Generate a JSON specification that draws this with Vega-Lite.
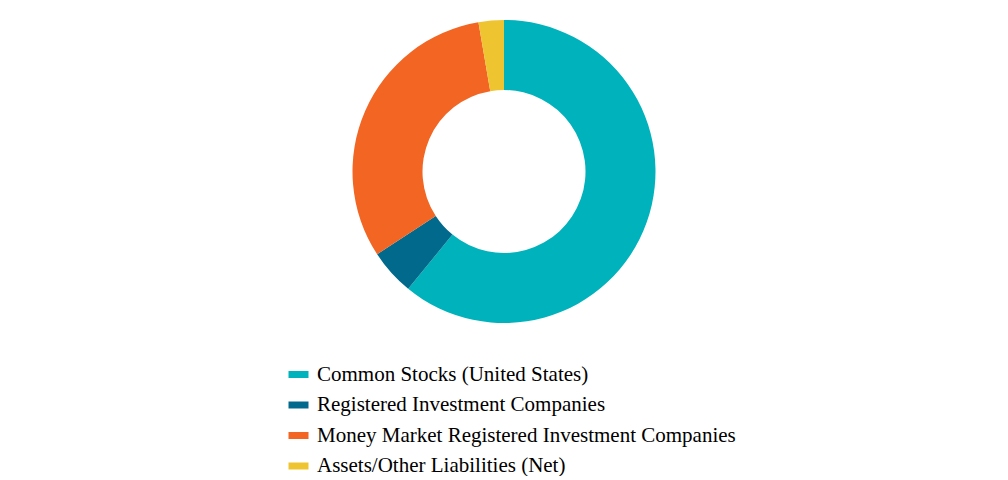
{
  "$schema": "https://vega.github.io/schema/vega-lite/v6.json",
  "width": 1008,
  "height": 343,
  "padding": 0,
  "autosize": {"type": "pad"},
  "background": "white",
  "data": {
    "values": [
      {"category": "Common Stocks (United States)", "value": 60.9, "order": 1},
      {"category": "Registered Investment Companies", "value": 4.9, "order": 2},
      {"category": "Money Market Registered Investment Companies", "value": 31.5, "order": 3},
      {"category": "Assets/Other Liabilities (Net)", "value": 2.7, "order": 4}
    ]
  },
  "mark": {"type": "arc", "outerRadius": 151.5, "innerRadius": 81.5},
  "encoding": {
    "theta": {"field": "value", "type": "quantitative", "stack": true},
    "order": {"field": "order", "type": "quantitative"},
    "color": {
      "field": "category",
      "type": "nominal",
      "scale": {
        "domain": ["Common Stocks (United States)", "Registered Investment Companies", "Money Market Registered Investment Companies", "Assets/Other Liabilities (Net)"],
        "range": ["#00B2BB", "#00698C", "#F26522", "#EEC431"]
      },
      "legend": {
        "title": null,
        "orient": "none",
        "legendX": 288,
        "legendY": 364,
        "direction": "vertical",
        "symbolType": "M-1,-0.35L1,-0.35L1,0.35L-1,0.35Z",
        "symbolSize": 400,
        "symbolStrokeWidth": 0,
        "labelFont": "Liberation Serif",
        "labelFontSize": 21,
        "labelColor": "#000000",
        "labelOffset": 8,
        "rowPadding": 8.5,
        "labelLimit": 700
      }
    }
  },
  "config": {"view": {"stroke": null}}
}
